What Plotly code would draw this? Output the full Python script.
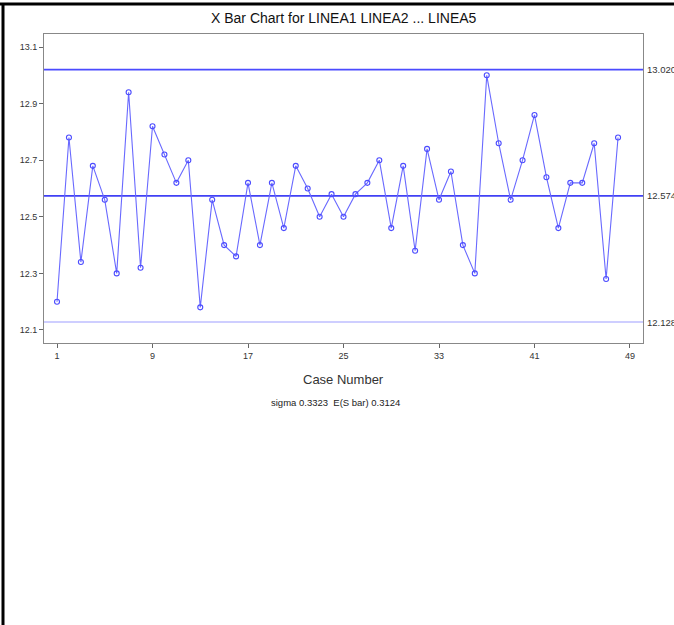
import plotly.graph_objects as go

case_number = list(range(1, 49))
xbar = [12.20, 12.78, 12.34, 12.68, 12.56, 12.30, 12.94, 12.32, 12.82, 12.72,
        12.62, 12.70, 12.18, 12.56, 12.40, 12.36, 12.62, 12.40, 12.62, 12.46,
        12.68, 12.60, 12.50, 12.58, 12.50, 12.58, 12.62, 12.70, 12.46, 12.68,
        12.38, 12.74, 12.56, 12.66, 12.40, 12.30, 13.00, 12.76, 12.56, 12.70,
        12.86, 12.64, 12.46, 12.62, 12.62, 12.76, 12.28, 12.78]
ucl = 13.020
center = 12.574
lcl = 12.128
limit_labels = ["13.020", "12.574", "12.128"]
x_ticks = [1, 9, 17, 25, 33, 41, 49]
y_ticks = [12.1, 12.3, 12.5, 12.7, 12.9, 13.1]

FONT = "Liberation Sans, Arial, sans-serif"
W, H = 674, 625
ml, mr, mt, mb = 44, 31, 34, 282
pw, ph = W - ml - mr, H - mt - mb

def px(x):
    return (x - ml) / pw

def py(y):
    return (H - mb - y) / ph

fig = go.Figure()

xr = [-0.09, 50.09]
for val, col in [(ucl, "rgb(75,75,255)"), (center, "rgb(65,65,245)"), (lcl, "rgb(190,190,255)")]:
    fig.add_trace(go.Scatter(x=xr, y=[val, val], mode="lines",
                             line=dict(color=col, width=1.6), hoverinfo="skip",
                             showlegend=False))

fig.add_trace(go.Scatter(
    x=case_number, y=xbar, mode="lines+markers",
    line=dict(color="rgb(105,105,255)", width=1.1),
    marker=dict(symbol="circle-open", size=5, color="rgb(75,75,255)",
                line=dict(width=1.1, color="rgb(75,75,255)")),
    showlegend=False))

annotations = [
    dict(text="X Bar Chart for LINEA1 LINEA2 ... LINEA5", xref="paper", yref="paper",
         x=0.5, y=py(18), xanchor="center", yanchor="middle", showarrow=False,
         font=dict(family=FONT, size=14, color="#111")),
    dict(text="Case Number", xref="paper", yref="paper",
         x=px(343), y=py(379), xanchor="center", yanchor="middle", showarrow=False,
         font=dict(family=FONT, size=13, color="#333")),
    dict(text="sigma 0.3323  E(S bar) 0.3124", xref="paper", yref="paper",
         x=px(335), y=py(402), xanchor="center", yanchor="middle", showarrow=False,
         font=dict(family=FONT, size=9.5, color="#222")),
]
for val, lab in zip([ucl, center, lcl], limit_labels):
    annotations.append(dict(text=lab, xref="paper", yref="y", x=1, y=val,
                            xanchor="left", yanchor="middle", xshift=2, showarrow=False,
                            font=dict(family=FONT, size=9.5, color="#333")))

shapes = [
    dict(type="line", xref="paper", yref="paper", x0=px(0), x1=px(W), y0=py(4), y1=py(4),
         line=dict(color="black", width=3)),
    dict(type="line", xref="paper", yref="paper", x0=px(3), x1=px(3), y0=py(4), y1=py(H + 2),
         line=dict(color="black", width=3)),
]

fig.update_layout(
    width=W, height=H,
    margin=dict(l=ml, r=mr, t=mt, b=mb, pad=0),
    paper_bgcolor="white", plot_bgcolor="white",
    annotations=annotations, shapes=shapes,
    font=dict(family=FONT, size=9, color="#333"),
    xaxis=dict(range=xr, tickvals=x_ticks, ticks="outside", ticklen=4, tickcolor="#666",
               showgrid=False, zeroline=False, showline=True, linecolor="#888",
               linewidth=1, mirror=True, tickfont=dict(size=9, color="#333")),
    yaxis=dict(range=[12.054, 13.146], tickvals=y_ticks,
               ticktext=[f"{v:.1f}" for v in y_ticks], ticks="outside", ticklen=4,
               tickcolor="#666", showgrid=False, zeroline=False, showline=True,
               linecolor="#888", linewidth=1, mirror=True,
               tickfont=dict(size=9, color="#333")),
)

fig.write_html("out.html")
